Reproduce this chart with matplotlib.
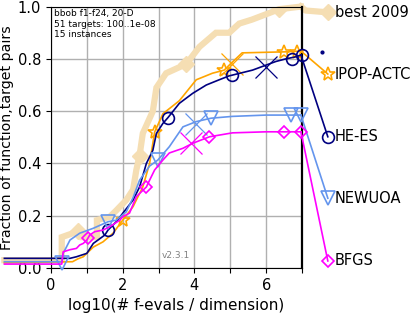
import matplotlib
matplotlib.use("Agg")
import matplotlib.pyplot as plt

# ECDF curves (x = log10(#f-evals / dim), y = fraction)
best_x = [-1.3, 0.3, 0.3, 0.75, 0.85, 1.28, 1.28, 1.64, 1.82, 2.1, 2.29, 2.38, 2.47,
          2.56, 2.84, 2.94, 3.21, 3.77, 4.14, 4.6, 4.97, 5.25, 5.6, 6.08, 6.36, 6.97]
best_y = [0.03, 0.03, 0.118, 0.14, 0.118, 0.118, 0.183, 0.196, 0.22, 0.26, 0.30, 0.375,
          0.43, 0.515, 0.60, 0.69, 0.745, 0.78, 0.846, 0.90, 0.90, 0.935, 0.95, 0.975,
          0.99, 1.0]
best_mx = [0.75, 2.47, 3.77, 6.36]
best_my = [0.14, 0.43, 0.78, 0.99]

ipop_x = [-1.3, 0.6, 0.75, 0.9, 1.18, 1.45, 1.73, 2.0, 2.29, 2.56, 2.75, 2.89, 3.12,
          3.58, 4.05, 4.5, 4.83, 4.97, 5.33, 6.55, 6.97]
ipop_y = [0.02, 0.024, 0.035, 0.043, 0.08, 0.10, 0.133, 0.183, 0.235, 0.31, 0.40, 0.52,
          0.59, 0.64, 0.72, 0.745, 0.757, 0.776, 0.823, 0.827, 0.83]
ipop_mx = [2.0, 2.89, 4.83, 6.5, 6.86]
ipop_my = [0.183, 0.52, 0.757, 0.826, 0.827]

hees_x = [-1.3, 0.53, 0.71, 1.0, 1.18, 1.31, 1.5, 1.59, 1.82, 2.0, 2.29, 2.47, 2.66,
          2.84, 2.94, 3.12, 3.26, 3.58, 3.95, 4.33, 4.69, 4.97, 5.06, 5.62, 6.27, 6.55,
          6.83, 6.97]
hees_y = [0.037, 0.037, 0.043, 0.056, 0.094, 0.107, 0.126, 0.145, 0.177, 0.209, 0.26,
          0.31, 0.40, 0.45, 0.515, 0.553, 0.575, 0.63, 0.668, 0.70, 0.72, 0.735, 0.738,
          0.757, 0.79, 0.80, 0.808, 0.815]
hees_mx = [1.59, 3.26, 5.06, 6.72, 7.0]
hees_my = [0.145, 0.575, 0.738, 0.80, 0.815]

newuoa_x = [-1.3, 0.3, 0.34, 0.53, 0.8, 1.18, 1.59, 1.82, 2.1, 2.29, 2.47, 2.75, 2.98,
            3.3, 3.68, 4.05, 4.46, 5.06, 6.0, 6.97]
newuoa_y = [0.024, 0.024, 0.056, 0.107, 0.133, 0.152, 0.177, 0.183, 0.215, 0.27, 0.336,
            0.39, 0.413, 0.464, 0.54, 0.56, 0.573, 0.58, 0.585, 0.585]
newuoa_mx = [0.3, 1.59, 2.98, 4.46, 6.69, 6.96]
newuoa_my = [0.018, 0.177, 0.413, 0.573, 0.585, 0.585]

bfgs_x = [-1.3, 0.3, 0.34, 0.53, 0.71, 0.8, 0.9, 1.0, 1.08, 1.22, 1.45, 1.64, 1.92,
          2.0, 2.19, 2.38, 2.66, 2.75, 2.89, 3.12, 3.3, 3.68, 3.95, 4.42, 5.06, 6.0, 6.97]
bfgs_y = [0.015, 0.015, 0.062, 0.07, 0.075, 0.088, 0.094, 0.107, 0.126, 0.139, 0.145,
          0.158, 0.183, 0.196, 0.21, 0.273, 0.31, 0.336, 0.375, 0.413, 0.44, 0.458,
          0.477, 0.502, 0.517, 0.521, 0.521]
bfgs_mx = [1.04, 2.66, 4.42, 6.5, 6.96]
bfgs_my = [0.114, 0.31, 0.502, 0.521, 0.521]

# big "x" marks (one per algorithm)
cross_x = [5.06, 6.0, 4.05, 3.9]
cross_y = [0.78, 0.77, 0.55, 0.477]

names = ['best 2009', 'IPOP-ACTC', 'HE-ES', 'NEWUOA', 'BFGS']
label_y = [0.978, 0.742, 0.502, 0.267, 0.027]
label_x = 7.72


def main():
    fig = plt.figure(figsize=(4.18, 3.14), dpi=100)
    ax = fig.add_axes([0.122, 0.1465, 0.6005, 0.8325])

    # best 2009, thick background line
    ax.plot(best_x, best_y, color='wheat', lw=4.5, clip_on=False, zorder=1,
            solid_joinstyle='miter')
    ax.plot(best_mx, best_my, ls='none', marker='D', ms=8, color='wheat', zorder=1)
    ax.plot([best_x[-1], 7.1, label_x], [best_y[-1], 0.985, label_y[0]], color='wheat',
            lw=4.5, clip_on=False, zorder=1)
    ax.plot([label_x], [label_y[0]], marker='D', ms=8, color='wheat', clip_on=False)

    series = [
        (ipop_x, ipop_y, ipop_mx, ipop_my, 'orange', '*', 10),
        (hees_x, hees_y, hees_mx, hees_my, 'navy', 'o', 8.5),
        (newuoa_x, newuoa_y, newuoa_mx, newuoa_my, 'cornflowerblue', 'v', 9.5),
        (bfgs_x, bfgs_y, bfgs_mx, bfgs_my, 'magenta', 'D', 6.5),
    ]
    for i in range(len(series)):
        xs, ys, mx, my, col, mk, ms = series[i]
        ax.plot(xs, ys, color=col, lw=1.2, clip_on=False, zorder=3)
        ax.plot(mx, my, ls='none', marker=mk, ms=ms, mfc='none', mec=col, mew=1.2,
                zorder=3, clip_on=False)
        ax.plot(cross_x[i], cross_y[i], marker='x', ms=16, mew=0.9, color=col, zorder=3)
        ax.plot([xs[-1], label_x], [ys[-1], label_y[i + 1]], color=col, lw=1.2,
                clip_on=False, zorder=3)
        ax.plot([label_x], [label_y[i + 1]], marker=mk, ms=ms, mfc='none', mec=col,
                mew=1.2, clip_on=False, zorder=3)

    ax.plot([7.56], [0.826], marker='.', ms=4, color='navy', clip_on=False)

    for i in range(len(names)):
        ax.text(label_x + 0.2, label_y[i], names[i], fontsize=10.5, va='center',
                ha='left', clip_on=False)

    ax.set_xlim(0, 6.97)
    ax.set_ylim(0, 1.0)
    ax.set_xticks(range(0, 8))
    ax.set_xticklabels(['0', '', '2', '', '4', '', '6', ''])
    ax.set_yticks([0.0, 0.2, 0.4, 0.6, 0.8, 1.0])
    ax.set_yticklabels(['0.0', '0.2', '0.4', '0.6', '0.8', '1.0'])
    ax.tick_params(labelsize=10.5)
    ax.grid(True, color='#b0b0b0', lw=1)
    ax.set_axisbelow(True)
    ax.spines['right'].set_linewidth(1.6)
    ax.set_xlabel('log10(# f-evals / dimension)', fontsize=11)
    ax.set_ylabel('Fraction of function,target pairs', fontsize=10.2, labelpad=3)

    ax.text(0.012, 0.99, 'bbob f1-f24, 20-D\n51 targets: 100..1e-08\n15 instances',
            transform=ax.transAxes, fontsize=6.5, va='top', ha='left')
    ax.text(0.553, 0.03, 'v2.3.1', transform=ax.transAxes, fontsize=6.5, color='gray',
            ha='right', va='bottom')

    fig.savefig('out.png', dpi=100)


if __name__ == "__main__":
    main()
